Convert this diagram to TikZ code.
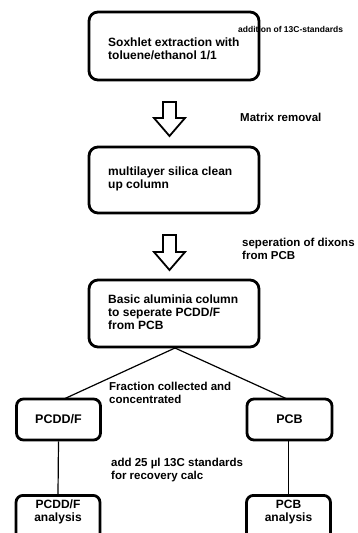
\documentclass[tikz,border=0pt]{standalone}
\usepackage{fontspec}
\setmainfont{Liberation Sans}
\begin{document}
\begin{tikzpicture}[x=1pt,y=-1pt,
  stepbox/.style={draw=black, line width=2.8pt, rounded corners=9pt, minimum width=170pt, inner sep=0pt},
  smallbox/.style={draw=black, line width=2.8pt, rounded corners=7pt, minimum width=84pt, minimum height=41pt, inner sep=0pt, font=\bfseries\fontsize{12.5}{13}\selectfont, align=center},
  btext/.style={font=\bfseries\fontsize{12}{13}\selectfont, align=left, inner sep=0pt},
  lbl/.style={font=\bfseries\fontsize{11.5}{13}\selectfont, align=left, inner sep=0pt, anchor=west},
  atext/.style={font=\bfseries\fontsize{12}{12.5}\selectfont, align=center, inner sep=0pt, anchor=north},
  conn/.style={line width=1.2pt},
  hollow/.style={draw=black, line width=1.8pt, fill=white, line join=miter}
]
\useasboundingbox (0,0) rectangle (358,533);
\fill[white] (0,0) rectangle (358,533);

% main boxes
\node[stepbox, minimum height=68pt] (b1) at (174,46) {};
\node[btext, anchor=north west] (t1) at (108,38) {Soxhlet extraction with\\toluene/ethanol 1/1};
\node[stepbox, minimum height=66pt] (b2) at (174,180) {};
\node[btext, anchor=north west] (t2) at (108,167) {multilayer silica clean\\up column};
\node[stepbox, minimum height=67pt] (b3) at (174,313.5) {};
\node[btext, anchor=north west] (t3) at (108,295) {Basic aluminia column\\to seperate PCDD/F\\from PCB};

% hollow arrows
\draw[hollow] (163,102) -- (176,102) -- (176,118) -- (185,118) -- (169.5,136) -- (154,118) -- (163,118) -- cycle;
\draw[hollow] (163,235) -- (176,235) -- (176,252) -- (185,252) -- (169.5,270) -- (154,252) -- (163,252) -- cycle;

% labels
\node[font=\bfseries\fontsize{8.5}{10}\selectfont, inner sep=0pt, anchor=west] (l0) at (238,29) {addition of 13C-standards};
\node[lbl] (l1) at (240,117) {Matrix removal};
\node[lbl] (l2) at (242,248.5) {seperation of dixons\\from PCB};
\node[lbl] (l3) at (109,392.5) {Fraction collected and\\concentrated};
\node[lbl] (l4) at (111,470) {add 25 µl 13C standards\\for recovery calc};

% fraction boxes
\node[smallbox] (p1) at (58.5,419.5) {PCDD/F};
\node[smallbox, minimum width=85pt] (p2) at (289.5,419.5) {PCB};
\node[smallbox, minimum height=50pt, anchor=north] (q1) at (58,494) {};
\node[atext] (qt1) at (58,500) {PCDD/F\\analysis};
\node[smallbox, minimum height=50pt, anchor=north] (q2) at (288.5,494) {};
\node[atext] (qt2) at (288.5,500) {PCB\\analysis};

% connectors
\coordinate (split) at (175,348);
\draw[conn] (split) -- (65,398.5);
\draw[conn] (split) -- (286,398.5);
\draw[conn] (p1.south) -- (q1.north);
\draw[conn] (p2.south -| q2.north) -- (q2.north);
\end{tikzpicture}
\end{document}
